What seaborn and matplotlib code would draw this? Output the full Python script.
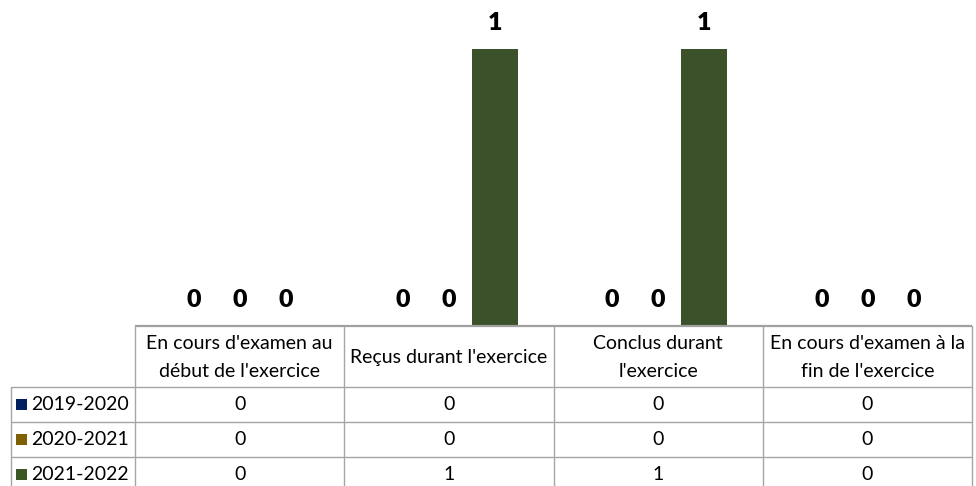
import matplotlib
matplotlib.use("Agg")
import matplotlib.pyplot as plt
import seaborn as sns
import pandas as pd
from matplotlib.patches import Rectangle

# Données
categories = [
    "En cours d'examen au\ndébut de l'exercice",
    "Reçus durant l'exercice",
    "Conclus durant\nl'exercice",
    "En cours d'examen à la\nfin de l'exercice",
]
series = ["2019-2020", "2020-2021", "2021-2022"]
values_2019_2020 = [0, 0, 0, 0]
values_2020_2021 = [0, 0, 0, 0]
values_2021_2022 = [0, 1, 1, 0]
colors = ["#002060", "#7F6000", "#3A5724"]

series_values = [values_2019_2020, values_2020_2021, values_2021_2022]
df = pd.DataFrame(
    [(c, s, v[i]) for s, v in zip(series, series_values) for i, c in enumerate(categories)],
    columns=["categorie", "periode", "valeur"],
)

sns.set_theme(style="white")
plt.rcParams["font.family"] = ["Lato", "DejaVu Sans"]

W, H = 976, 486
fig = plt.figure(figsize=(W / 100, H / 100), dpi=100)
fig.patch.set_facecolor("white")

x0, x1 = 135, 972      # zone de tracé (pixels)
y_base = 326           # ligne de base des barres
unit_px = 277          # hauteur en pixels d'une unité

ax = fig.add_axes([x0 / W, (H - y_base) / H, (x1 - x0) / W, y_base / H])
sns.barplot(
    data=df, x="categorie", y="valeur", hue="periode", order=categories,
    hue_order=series, palette=colors, width=0.66, gap=0, errorbar=None,
    legend=False, ax=ax, edgecolor="none",
)
ax.set_xlim(-0.5, len(categories) - 0.5)
ax.set_ylim(0, y_base / unit_px)
ax.set_axis_off()

# Étiquettes de valeurs au-dessus des barres
for cont in ax.containers:
    for bar in cont:
        h = bar.get_height()
        ax.annotate(
            f"{h:.0f}", (bar.get_x() + bar.get_width() / 2, h),
            xytext=(0, 26 * 0.72), textcoords="offset points",
            ha="center", va="center", fontsize=18, fontweight="heavy",
            color="black",
        )

# Tableau de données sous le graphique
tab = fig.add_axes([0, 0, 1, 1], zorder=5)
tab.set_xlim(0, W)
tab.set_ylim(H, 0)
tab.set_axis_off()
tab.patch.set_alpha(0)

line_c = "#A6A6A6"
col_edges = [x0 + (x1 - x0) * i / len(categories) for i in range(len(categories) + 1)]
label_left = 11
head_top, head_bot = y_base, 387
row_h = 35
row_edges = [head_bot + row_h * i for i in range(len(series) + 1)]

# ligne de base
tab.plot([x0, x1], [head_top, head_top], color="#A0A0A0", lw=1.6, solid_capstyle="butt")
# lignes horizontales
for y in row_edges[:-1]:
    tab.plot([label_left, x1], [y, y], color=line_c, lw=1)
# lignes verticales
for x in col_edges:
    tab.plot([x, x], [head_top, H + 5], color=line_c, lw=1)
tab.plot([label_left, label_left], [head_bot, H + 5], color=line_c, lw=1)

fs = 14
# en-têtes
for i, cat in enumerate(categories):
    xc = (col_edges[i] + col_edges[i + 1]) / 2
    tab.text(xc, (head_top + head_bot) / 2 + 1, cat, ha="center", va="center",
             fontsize=fs, color="black", linespacing=1.75)

# lignes du tableau
for r, (s, vals, c) in enumerate(zip(series, series_values, colors)):
    yc = (row_edges[r] + row_edges[r + 1]) / 2
    tab.add_patch(Rectangle((16, yc - 5.5), 11, 11, facecolor=c, edgecolor="none"))
    tab.text(31, yc, s, ha="left", va="center", fontsize=fs, color="black")
    for i, v in enumerate(vals):
        xc = (col_edges[i] + col_edges[i + 1]) / 2
        tab.text(xc, yc, f"{v}", ha="center", va="center", fontsize=fs, color="black")

fig.savefig("out.png", dpi=100, facecolor="white")
